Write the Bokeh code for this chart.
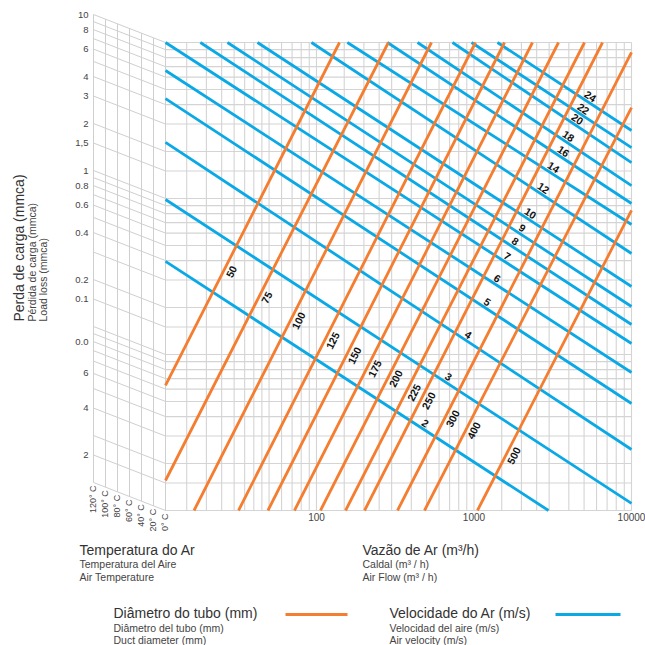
import math
from bokeh.plotting import figure
from bokeh.models import Range1d, ColumnDataSource
from bokeh.embed import file_html
from bokeh.resources import INLINE
from bokeh.core.properties import value

# ---------------- data ----------------
diameters = [50, 75, 100, 125, 150, 175, 200, 225, 250, 300, 400, 500]
dia_q_start = [11, 11, 16.7, 32.0, 49.2, 72.5, 106, 153, 202, 327, 485, 1052]
dia_f_start = [0.0633, 0.01557, 0.01, 0.01, 0.01, 0.01, 0.01, 0.01, 0.01, 0.01, 0.01, 0.01]
dia_q_end = [140, 286, 537, 1022, 1562, 2351, 3440, 5030, 6546, 10000, 10000, 10000]
dia_f_end = [10, 10, 10, 10, 10, 10, 10, 10, 10, 8.63, 3.83, 0.838]
dia_label_f = [0.340, 0.232, 0.165, 0.123, 0.0986, 0.0813, 0.0702, 0.0571, 0.0507, 0.0389, 0.0326, 0.0225]

velocities = [2, 3, 4, 5, 6, 7, 8, 9, 10, 12, 14, 16, 18, 20, 22, 24]
vel_q_start = [11, 11, 11, 11, 11, 11, 18.3, 27.2, 42.2, 92.9, 157, 282, 438, 730, 964, 1409]
vel_f_start = [0.395, 0.985, 2.29, 4.37, 6.61, 10, 10, 10, 10, 10, 10, 10, 10, 10, 10, 10]
vel_q_end = [2972, 10000, 10000, 10000, 10000, 10000, 10000, 10000, 10000, 10000, 10000, 10000, 10000, 10000, 10000, 10000]
vel_f_end = [0.01, 0.0111, 0.0246, 0.0485, 0.0767, 0.1176, 0.1557, 0.203, 0.273, 0.444, 0.681, 0.929, 1.21, 1.70, 2.12, 2.73]
vel_label_q = [492, 689, 923, 1218, 1410, 1632, 1834, 2032, 2285, 2762, 3199, 3702, 3981, 4541, 4958, 5491]

y_tick_values = [10, 8, 6, 4, 3, 2, 1.5, 1, 0.8, 0.6, 0.4, 0.2, 0.15, 0.08, 0.05, 0.03, 0.015]
y_tick_labels = ["10", "8", "6", "4", "3", "2", "1,5", "1", "0.8", "0.6", "0.4", "0.2", "0.1", "0.0", "6", "4", "2"]
x_tick_values = [100, 1000, 10000]
x_tick_labels = ["100", "1000", "10000"]
temperatures = [0, 20, 40, 60, 80, 100, 120]
temp_labels = ["0° C", "20° C", "40° C", "60° C", "80° C", "100° C", "120° C"]

ORANGE = "#f47d30"
BLUE = "#0aa9e6"
GRID = "#d4d4d4"
FONT = value("Liberation Sans")

# ---------------- layout (picture pixels) ----------------
W = H = 645
ORIGIN = 0
LEFT_PX, RIGHT_PX, TOP_PX, BOTTOM_PX = 165, 631, 42, 510
Q_MIN, Q_MAX, F_MIN, F_MAX = 11.0, 10000.0, 0.01, 10.0
DEC_X = (RIGHT_PX - LEFT_PX) / math.log10(Q_MAX / Q_MIN)
DEC_Y = (BOTTOM_PX - TOP_PX) / math.log10(F_MAX / F_MIN)
SKEW_W, SKEW_H, T_MAX = 72.0, 28.0, 120.0


def qx(px):
    return Q_MAX * 10 ** (-(RIGHT_PX - px) / DEC_X)


def fy(py):
    return F_MAX * 10 ** (-(py - TOP_PX) / DEC_Y)


def temp_px(t):
    return LEFT_PX - SKEW_W * t / T_MAX


def temp_shift(t):
    return 10 ** (SKEW_H * (t / T_MAX) / DEC_Y)


p = figure(width=W, height=H, x_axis_type="log", y_axis_type="log",
           x_range=Range1d(qx(ORIGIN), qx(ORIGIN + W)),
           y_range=Range1d(fy(ORIGIN + H), fy(ORIGIN)),
           x_axis_location=None, y_axis_location=None,
           toolbar_location=None, output_backend="svg", min_border=0, title=None)
p.grid.visible = False
p.outline_line_color = None
p.background_fill_color = "white"
p.border_fill_color = "white"

# ---------------- grid ----------------
q_grid = []
for dec, mults in [(10, [1.5, 2, 2.5, 3, 3.5, 4, 4.5, 5, 6, 7, 8, 9]),
                   (100, [1, 1.5, 2, 2.5, 3, 4, 5, 6, 7, 8, 9]),
                   (1000, [1, 1.5, 2, 2.5, 3, 4, 5, 6, 7, 8, 9]),
                   (10000, [1])]:
    for m in mults:
        v = dec * m
        if Q_MIN < v <= Q_MAX:
            q_grid.append(v)
f_grid = []
for dec in [0.01, 0.1, 1]:
    for m in [1, 1.5, 2, 3, 4, 5, 6, 7, 8, 9]:
        f_grid.append(dec * m)
f_grid.append(10)

p.segment(x0=q_grid, y0=[F_MIN] * len(q_grid), x1=q_grid, y1=[F_MAX] * len(q_grid),
          line_color=GRID, line_width=1.1)
p.segment(x0=[Q_MIN] * len(f_grid), y0=f_grid, x1=[Q_MAX] * len(f_grid), y1=f_grid,
          line_color=GRID, line_width=1.1)
# skewed temperature panel
xl = qx(temp_px(T_MAX))
p.segment(x0=[xl] * len(f_grid), y0=[f * temp_shift(T_MAX) for f in f_grid],
          x1=[Q_MIN] * len(f_grid), y1=f_grid, line_color="#cfcfcf", line_width=1)
tx = [qx(temp_px(t)) for t in temperatures]
p.segment(x0=tx, y0=[F_MIN * temp_shift(t) for t in temperatures],
          x1=tx, y1=[F_MAX * temp_shift(t) for t in temperatures],
          line_color="#cfcfcf", line_width=1)

# ---------------- velocity lines ----------------
vsrc = ColumnDataSource(dict(x0=vel_q_start, y0=vel_f_start, x1=vel_q_end, y1=vel_f_end))
p.segment(x0="x0", y0="y0", x1="x1", y1="y1", source=vsrc, line_color=BLUE, line_width=2.8)

# ---------------- diameter lines ----------------
dsrc = ColumnDataSource(dict(x0=dia_q_start, y0=dia_f_start, x1=dia_q_end, y1=dia_f_end))
p.segment(x0="x0", y0="y0", x1="x1", y1="y1", source=dsrc, line_color=ORANGE, line_width=2.8)


def line_y_at(q, q0, f0, q1, f1):
    t = (math.log10(q) - math.log10(q0)) / (math.log10(q1) - math.log10(q0))
    return 10 ** (math.log10(f0) + t * (math.log10(f1) - math.log10(f0)))


def line_x_at(f, q0, f0, q1, f1):
    t = (math.log10(f) - math.log10(f0)) / (math.log10(f1) - math.log10(f0))
    return 10 ** (math.log10(q0) + t * (math.log10(q1) - math.log10(q0)))


def screen_angle(q0, f0, q1, f1):
    dx = (math.log10(q1) - math.log10(q0)) * DEC_X
    dy = (math.log10(f1) - math.log10(f0)) * DEC_Y
    return math.atan2(dy, dx)


# diameter labels
dl = dict(x=[], y=[], t=[], a=[])
for d, q0, f0, q1, f1, fl in zip(diameters, dia_q_start, dia_f_start, dia_q_end, dia_f_end, dia_label_f):
    dl["x"].append(line_x_at(fl, q0, f0, q1, f1))
    dl["y"].append(fl)
    dl["t"].append(str(d))
    dl["a"].append(screen_angle(q0, f0, q1, f1))
p.text(x="x", y="y", text="t", angle="a", source=ColumnDataSource(dl), x_offset=8,
       text_align="center", text_baseline="middle", text_font=FONT, text_font_style="bold",
       text_font_size="10.5px", text_color="#111111")

# velocity labels
vl = dict(x=[], y=[], t=[], a=[])
for v, q0, f0, q1, f1, ql in zip(velocities, vel_q_start, vel_f_start, vel_q_end, vel_f_end, vel_label_q):
    vl["x"].append(ql)
    vl["y"].append(line_y_at(ql, q0, f0, q1, f1))
    vl["t"].append(str(v))
    vl["a"].append(screen_angle(q0, f0, q1, f1))
p.text(x="x", y="y", text="t", angle="a", source=ColumnDataSource(vl), y_offset=-7.5,
       text_align="center", text_baseline="middle", text_font=FONT, text_font_style="bold",
       text_font_size="10.5px", text_color="#111111")

# ---------------- tick labels ----------------
p.text(x=[qx(88)] * len(y_tick_values), y=[v * temp_shift(T_MAX) for v in y_tick_values],
       text=y_tick_labels, text_align="right", text_baseline="middle", text_font=FONT,
       text_font_size="9.5px", text_color="#444444")
p.text(x=x_tick_values, y=[fy(516)] * len(x_tick_values), text=x_tick_labels, text_align="center",
       text_baseline="middle", text_font=FONT, text_font_size="10px", text_color="#444444")
p.text(x=[qx(temp_px(t) - 1) for t in temperatures],
       y=[F_MIN * temp_shift(t) / 10 ** (3 / DEC_Y) for t in temperatures],
       text=temp_labels, angle=math.pi / 2, text_align="right", text_baseline="middle",
       text_font=FONT, text_font_size="9px", text_color="#444444")

# ---------------- titles ----------------
def txt(px, py, s, size, color, angle=0.0, align="left"):
    p.text(x=[qx(px)], y=[fy(py)], text=[s], angle=angle, text_align=align,
           text_baseline="middle", text_font=FONT, text_font_size=size, text_color=color)


BIG, SMALL = "14px", "10.5px"
txt(18, 321, "Perda de carga (mmca)", BIG, "#333333", math.pi / 2)
txt(31, 321, "Pérdida de carga (mmca)", SMALL, "#444444", math.pi / 2)
txt(42, 321, "Load loss (mmca)", SMALL, "#444444", math.pi / 2)

txt(79, 549, "Temperatura do Ar", BIG, "#333333")
txt(79, 563, "Temperatura del Aire", SMALL, "#444444")
txt(79, 576, "Air Temperature", SMALL, "#444444")

txt(362, 549, "Vazão de Ar (m³/h)", BIG, "#333333")
txt(362, 563, "Caldal (m³ / h)", SMALL, "#444444")
txt(362, 576, "Air Flow (m³ / h)", SMALL, "#444444")

txt(113, 612, "Diâmetro do tubo (mm)", BIG, "#333333")
txt(113, 627, "Diâmetro del tubo (mm)", SMALL, "#444444")
txt(113, 639, "Duct diameter (mm)", SMALL, "#444444")
p.segment(x0=[qx(285)], y0=[fy(614)], x1=[qx(347)], y1=[fy(614)], line_color=ORANGE, line_width=3)

txt(389, 612, "Velocidade do Ar (m/s)", BIG, "#333333")
txt(389, 627, "Velocidad del aire (m/s)", SMALL, "#444444")
txt(389, 639, "Air velocity (m/s)", SMALL, "#444444")
p.segment(x0=[qx(555)], y0=[fy(614)], x1=[qx(620)], y1=[fy(614)], line_color=BLUE, line_width=3)

open("out.html", "w").write(file_html(p, INLINE))
